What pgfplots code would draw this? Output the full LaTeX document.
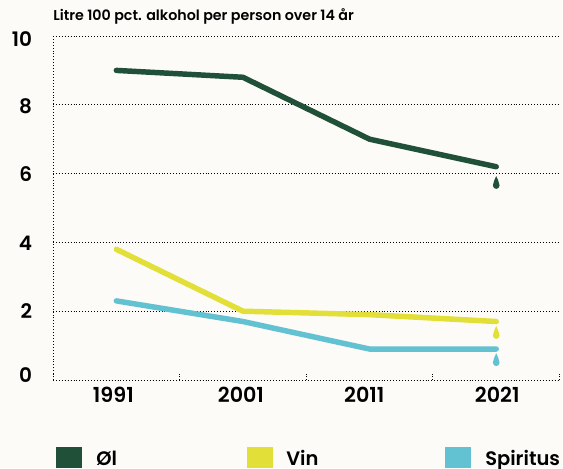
\documentclass[border=0pt]{standalone}
\usepackage{pgfplots}
\pgfplotsset{compat=1.18}
\usepackage{fontspec}
\setmainfont{Poppins}[BoldFont={Poppins SemiBold}]
\definecolor{bg}{HTML}{FCFBF7}
\definecolor{ol}{HTML}{215039}
\definecolor{vin}{HTML}{E3DF39}
\definecolor{spi}{HTML}{62C2D2}
\pgfdeclareplotmark{drop}{%
  \pgfpathmoveto{\pgfpoint{0pt}{5.1pt}}%
  \pgfpathcurveto{\pgfpoint{0.7pt}{2.8pt}}{\pgfpoint{2.5pt}{0.8pt}}{\pgfpoint{2.5pt}{-1.9pt}}%
  \pgfpathcurveto{\pgfpoint{2.5pt}{-3.5pt}}{\pgfpoint{1.3pt}{-4.5pt}}{\pgfpoint{0pt}{-4.5pt}}%
  \pgfpathcurveto{\pgfpoint{-1.3pt}{-4.5pt}}{\pgfpoint{-2.5pt}{-3.5pt}}{\pgfpoint{-2.5pt}{-1.9pt}}%
  \pgfpathcurveto{\pgfpoint{-2.5pt}{0.8pt}}{\pgfpoint{-0.7pt}{2.8pt}}{\pgfpoint{0pt}{5.1pt}}%
  \pgfpathclose\pgfusepathqfill}
\newcommand{\yl}[2]{\raisebox{#1}[10.5pt][0pt]{#2}}
\begin{document}
\begin{tikzpicture}[x=0.75pt,y=0.75pt]
\useasboundingbox (0,0) rectangle (563,468);
\fill[bg] (0,0) rectangle (563,468);
\begin{axis}[
  at={(39.75pt,66pt)}, anchor=south west,
  scale only axis, width=379.9pt, height=258pt,
  xmin=-0.5, xmax=3.5, ymin=0, ymax=10,
  axis x line*=bottom, axis y line*=left,
  axis line style={black, dash pattern=on 0.7pt off 1.5pt, line width=0.7pt, -},
  xtick={0,1,2,3},
  xticklabels={1991\kern4.5pt,2001\kern3pt,2011\kern8pt,\kern1.5pt 2021},
  minor xtick={-0.5,0.5,1.5,2.5,3.5},
  ytick={0,2,4,6,8,10},
  yticklabels={\yl{3.75pt}{0},\yl{-0.5pt}{2},\yl{-0.5pt}{4},\yl{-0.5pt}{6},\yl{-1.2pt}{8},\yl{-2.6pt}{10}},
  major tick length=0pt, minor tick length=4.5pt,
  xminorticks=true,
  minor tick style={black, dash pattern=on 0.7pt off 1.5pt, line width=0.7pt},
  ymajorgrids=true,
  grid style={black, dash pattern=on 0.7pt off 1.5pt, line width=0.7pt},
  tick align=inside,
  xticklabel style={font=\fontsize{15.5}{15.5}\selectfont\bfseries, yshift=-11pt, inner sep=0pt, anchor=center},
  yticklabel style={font=\fontsize{15}{15}\selectfont\bfseries, xshift=-15.5pt, inner sep=0pt, anchor=east},
  /pgf/number format/assume math mode=true,
  clip=false,
]
\addplot[ol, line width=4.1pt, line cap=round, line join=round] coordinates {(0,9.0)(1,8.8)(2,7.0)(3,6.2)};
\addplot[vin, line width=4.1pt, line cap=round, line join=round] coordinates {(0,3.8)(1,2.0)(2,1.9)(3,1.7)};
\addplot[spi, line width=4.1pt, line cap=round, line join=round] coordinates {(0,2.3)(1,1.7)(2,0.9)(3,0.9)};
\addplot[only marks, mark=drop, ol] coordinates {(3,5.73)};
\addplot[only marks, mark=drop, vin] coordinates {(3,1.37)};
\addplot[only marks, mark=drop, spi] coordinates {(3,0.58)};
\end{axis}
\node[anchor=base west, inner sep=0pt, font=\fontsize{10.7}{11}\selectfont\bfseries] at (53,447.5) {Litre 100 pct. alkohol per person over 14 år};
\fill[ol] (56,0) rectangle (82,21);
\fill[vin] (247,0) rectangle (273,21);
\fill[spi] (445,0) rectangle (471,21);
\node[anchor=base west, inner sep=0pt, font=\fontsize{14.6}{15}\selectfont\bfseries] at (96,2.5) {Øl};
\node[anchor=base west, inner sep=0pt, font=\fontsize{14.6}{15}\selectfont\bfseries] at (286,2.5) {Vin};
\node[anchor=base west, inner sep=0pt, font=\fontsize{14.6}{15}\selectfont\bfseries] at (485,2.5) {Spiritus};
\end{tikzpicture}
\end{document}
